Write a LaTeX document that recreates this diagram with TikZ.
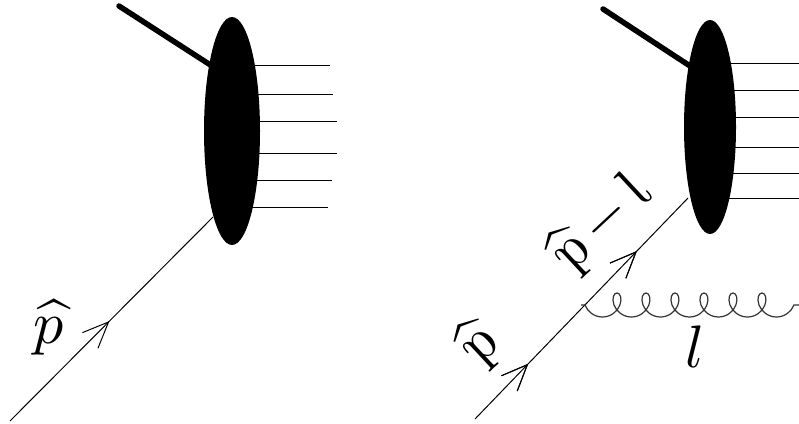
\documentclass[tikz,border=0pt]{standalone}
\usetikzlibrary{arrows.meta,decorations.markings,decorations.pathmorphing,shapes.geometric}
\tikzset{
    blob/.style={ellipse, fill=black, inner sep=0pt},
    leg/.style={line width=1pt, black},
    spectator/.style={line width=5.5pt, line cap=round},
    lbl/.style={scale=6, inner sep=0pt},
    barbtip/.style={decoration={markings, mark=at position #1 with {\arrow{Straight Barb[length=26pt,width=22pt,line width=1pt]}}}, postaction={decorate}},
    gluon/.style={line width=1.2pt, black!80, decorate, decoration={coil, mirror, aspect=0.85, segment length=29pt, amplitude=12pt, pre length=4pt, post length=0pt}}
}
\begin{document}
\begin{tikzpicture}[x=1pt,y=-1pt]
    \useasboundingbox (0,0) rectangle (799,423);
    % Left blob and its outgoing lines
    \node[blob, minimum width=56pt, minimum height=228pt] (blobL) at (232,131) {};
    \foreach \y/\x in {65/330, 94/333, 121/337, 153/337, 180/332, 207/328} {
        \coordinate (endL\y) at (\x,\y);
        \draw[leg] (blobL |- endL\y) -- (endL\y);
    }
    \coordinate (topL) at (119,6);
    \coordinate (inL) at (212,66);
    \draw[spectator] (topL) -- (inL);
    % Incoming quark, left
    \coordinate (startL) at (10,421);
    \coordinate (hitL) at (213,217);
    \draw[leg, barbtip=0.49] (startL) -- (hitL);
    \node[lbl] (labelL) at (49,328) {$\widehat{p}$};
    % Right blob and its outgoing lines
    \node[blob, minimum width=52pt, minimum height=214pt] (blobR) at (710,127) {};
    \foreach \y in {63, 90, 117, 147, 173, 198} {
        \coordinate (endR\y) at (799,\y);
        \draw[leg] (blobR |- endR\y) -- (endR\y);
    }
    \coordinate (topR) at (603,9);
    \coordinate (inR) at (690,66);
    \draw[spectator] (topR) -- (inR);
    % Incoming quark, right
    \coordinate (startR) at (475,419);
    \coordinate (hitR) at (688,198);
    \draw[leg, barbtip=0.25, barbtip=0.76] (startR) -- (hitR);
    \node[lbl, rotate=43, xslant=-0.25] (labelA) at (479,345) {$\widehat{p}$};
    \node[lbl, rotate=43, xslant=-0.25] (labelB) at (602,223) {$\widehat{p}\,{-}\,l$};
    % Emitted gluon
    \coordinate (gluonA) at (581,305);
    \coordinate (gluonB) at (799,305);
    \draw[gluon] (gluonA) -- (gluonB);
    \node[lbl] (labelC) at (695,347) {$l$};
\end{tikzpicture}
\end{document}
